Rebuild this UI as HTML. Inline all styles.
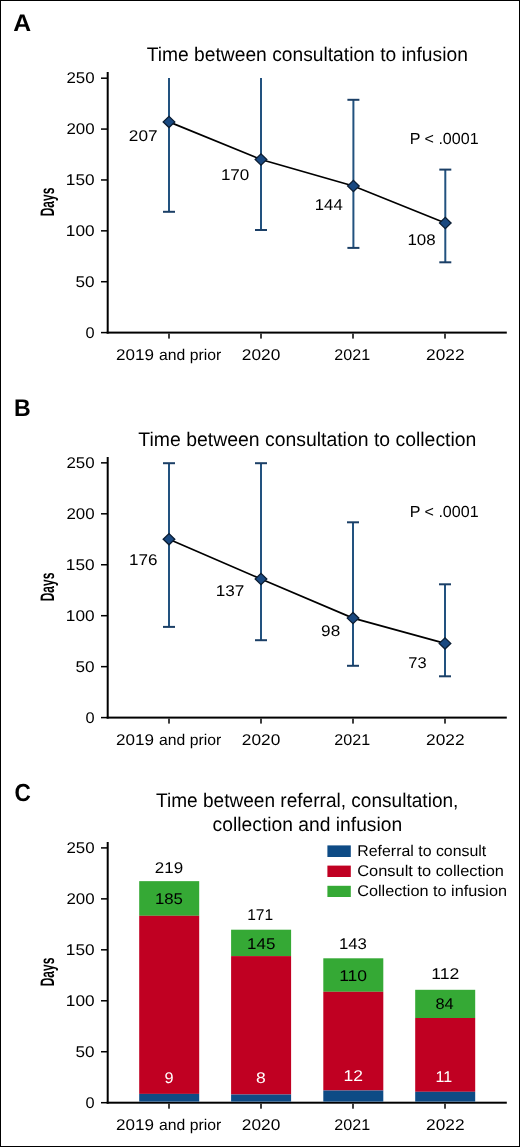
<!DOCTYPE html>
<html><head><meta charset="utf-8"><style>
html,body{margin:0;padding:0;background:#fff;}
svg{display:block;font-family:"Liberation Sans", sans-serif;text-rendering:geometricPrecision;will-change:transform;}
</style></head><body>
<svg width="520" height="1147" viewBox="0 0 520 1147">
<rect width="520" height="1147" fill="#fff"/>
<rect x="0.5" y="0.5" width="519" height="1146" fill="none" stroke="#000" stroke-width="1"/>
<rect x="106.7" y="72" width="2" height="261.60" fill="#000"/>
<rect x="106.7" y="331.60" width="400.1" height="2" fill="#000"/>
<rect x="101" y="331.85" width="6" height="1.5" fill="#000"/>
<rect x="101" y="280.97" width="6" height="1.5" fill="#000"/>
<rect x="101" y="230.09" width="6" height="1.5" fill="#000"/>
<rect x="101" y="179.21" width="6" height="1.5" fill="#000"/>
<rect x="101" y="128.33" width="6" height="1.5" fill="#000"/>
<rect x="101" y="77.45" width="6" height="1.5" fill="#000"/>
<rect x="168.25" y="333.60" width="1.5" height="5" fill="#000"/>
<rect x="260.25" y="333.60" width="1.5" height="5" fill="#000"/>
<rect x="352.25" y="333.60" width="1.5" height="5" fill="#000"/>
<rect x="444.25" y="333.60" width="1.5" height="5" fill="#000"/>
<rect x="106.7" y="457" width="2" height="261.60" fill="#000"/>
<rect x="106.7" y="716.60" width="400.1" height="2" fill="#000"/>
<rect x="101" y="716.85" width="6" height="1.5" fill="#000"/>
<rect x="101" y="665.90" width="6" height="1.5" fill="#000"/>
<rect x="101" y="614.95" width="6" height="1.5" fill="#000"/>
<rect x="101" y="564.00" width="6" height="1.5" fill="#000"/>
<rect x="101" y="513.05" width="6" height="1.5" fill="#000"/>
<rect x="101" y="462.10" width="6" height="1.5" fill="#000"/>
<rect x="168.25" y="718.60" width="1.5" height="5" fill="#000"/>
<rect x="260.25" y="718.60" width="1.5" height="5" fill="#000"/>
<rect x="352.25" y="718.60" width="1.5" height="5" fill="#000"/>
<rect x="444.25" y="718.60" width="1.5" height="5" fill="#000"/>
<rect x="106.7" y="842" width="2" height="261.70" fill="#000"/>
<rect x="106.7" y="1101.70" width="400.1" height="2" fill="#000"/>
<rect x="101" y="1101.95" width="6" height="1.5" fill="#000"/>
<rect x="101" y="1050.99" width="6" height="1.5" fill="#000"/>
<rect x="101" y="1000.03" width="6" height="1.5" fill="#000"/>
<rect x="101" y="949.07" width="6" height="1.5" fill="#000"/>
<rect x="101" y="898.11" width="6" height="1.5" fill="#000"/>
<rect x="101" y="847.15" width="6" height="1.5" fill="#000"/>
<rect x="168.25" y="1103.70" width="1.5" height="5" fill="#000"/>
<rect x="260.25" y="1103.70" width="1.5" height="5" fill="#000"/>
<rect x="352.25" y="1103.70" width="1.5" height="5" fill="#000"/>
<rect x="444.25" y="1103.70" width="1.5" height="5" fill="#000"/>
<line x1="169.0" y1="78.0" x2="169.0" y2="211.8" stroke="#22527f" stroke-width="2"/><line x1="163.0" y1="211.8" x2="175.0" y2="211.8" stroke="#1b3f66" stroke-width="2"/>
<line x1="261.0" y1="78.0" x2="261.0" y2="230.0" stroke="#22527f" stroke-width="2"/><line x1="255.0" y1="230.0" x2="267.0" y2="230.0" stroke="#1b3f66" stroke-width="2"/>
<line x1="353.4" y1="99.8" x2="353.4" y2="247.9" stroke="#22527f" stroke-width="2"/><line x1="347.4" y1="99.8" x2="359.4" y2="99.8" stroke="#1b3f66" stroke-width="2"/><line x1="347.4" y1="247.9" x2="359.4" y2="247.9" stroke="#1b3f66" stroke-width="2"/>
<line x1="445.3" y1="169.6" x2="445.3" y2="262.3" stroke="#22527f" stroke-width="2"/><line x1="439.3" y1="169.6" x2="451.3" y2="169.6" stroke="#1b3f66" stroke-width="2"/><line x1="439.3" y1="262.3" x2="451.3" y2="262.3" stroke="#1b3f66" stroke-width="2"/>
<path d="M169.0,121.9 L261.0,159.5 L353.4,186.0 L445.3,223.0" fill="none" stroke="#000" stroke-width="1.7"/>
<path d="M163.2,121.9 L169.0,116.30000000000001 L174.8,121.9 L169.0,127.5 Z" fill="#1a4981" stroke="#0b1d33" stroke-width="1.3"/>
<path d="M255.2,159.5 L261.0,153.9 L266.8,159.5 L261.0,165.1 Z" fill="#1a4981" stroke="#0b1d33" stroke-width="1.3"/>
<path d="M347.59999999999997,186.0 L353.4,180.4 L359.2,186.0 L353.4,191.6 Z" fill="#1a4981" stroke="#0b1d33" stroke-width="1.3"/>
<path d="M439.5,223.0 L445.3,217.4 L451.1,223.0 L445.3,228.6 Z" fill="#1a4981" stroke="#0b1d33" stroke-width="1.3"/>
<line x1="169.0" y1="463.2" x2="169.0" y2="626.9" stroke="#22527f" stroke-width="2"/><line x1="163.0" y1="463.2" x2="175.0" y2="463.2" stroke="#1b3f66" stroke-width="2"/><line x1="163.0" y1="626.9" x2="175.0" y2="626.9" stroke="#1b3f66" stroke-width="2"/>
<line x1="261.0" y1="463.2" x2="261.0" y2="640.2" stroke="#22527f" stroke-width="2"/><line x1="255.0" y1="463.2" x2="267.0" y2="463.2" stroke="#1b3f66" stroke-width="2"/><line x1="255.0" y1="640.2" x2="267.0" y2="640.2" stroke="#1b3f66" stroke-width="2"/>
<line x1="353.0" y1="522.3" x2="353.0" y2="665.8" stroke="#22527f" stroke-width="2"/><line x1="347.0" y1="522.3" x2="359.0" y2="522.3" stroke="#1b3f66" stroke-width="2"/><line x1="347.0" y1="665.8" x2="359.0" y2="665.8" stroke="#1b3f66" stroke-width="2"/>
<line x1="445.0" y1="584.3" x2="445.0" y2="676.3" stroke="#22527f" stroke-width="2"/><line x1="439.0" y1="584.3" x2="451.0" y2="584.3" stroke="#1b3f66" stroke-width="2"/><line x1="439.0" y1="676.3" x2="451.0" y2="676.3" stroke="#1b3f66" stroke-width="2"/>
<path d="M169.0,539.2 L261.0,579.0 L353.0,618.1 L445.0,643.4" fill="none" stroke="#000" stroke-width="1.7"/>
<path d="M163.2,539.2 L169.0,533.6 L174.8,539.2 L169.0,544.8000000000001 Z" fill="#1a4981" stroke="#0b1d33" stroke-width="1.3"/>
<path d="M255.2,579.0 L261.0,573.4 L266.8,579.0 L261.0,584.6 Z" fill="#1a4981" stroke="#0b1d33" stroke-width="1.3"/>
<path d="M347.2,618.1 L353.0,612.5 L358.8,618.1 L353.0,623.7 Z" fill="#1a4981" stroke="#0b1d33" stroke-width="1.3"/>
<path d="M439.2,643.4 L445.0,637.8 L450.8,643.4 L445.0,649.0 Z" fill="#1a4981" stroke="#0b1d33" stroke-width="1.3"/>
<rect x="139.2" y="881.15" width="60" height="34.65" fill="#35a935"/>
<rect x="139.2" y="915.8" width="60" height="178.10" fill="#c00022"/>
<rect x="139.2" y="1093.9" width="60" height="7.70" fill="#0e4b85"/>
<rect x="231.1" y="929.7" width="60" height="26.40" fill="#35a935"/>
<rect x="231.1" y="956.1" width="60" height="138.40" fill="#c00022"/>
<rect x="231.1" y="1094.5" width="60" height="7.10" fill="#0e4b85"/>
<rect x="323.3" y="958.3" width="60" height="33.50" fill="#35a935"/>
<rect x="323.3" y="991.8" width="60" height="98.70" fill="#c00022"/>
<rect x="323.3" y="1090.5" width="60" height="11.10" fill="#0e4b85"/>
<rect x="415.2" y="989.8" width="60" height="28.20" fill="#35a935"/>
<rect x="415.2" y="1018.0" width="60" height="73.80" fill="#c00022"/>
<rect x="415.2" y="1091.8" width="60" height="9.80" fill="#0e4b85"/>
<rect x="327.4" y="845.4" width="23.4" height="11.6" fill="#0e4b85"/>
<rect x="327.4" y="865.6" width="23.4" height="11.4" fill="#c00022"/>
<rect x="327.4" y="885.8" width="23.4" height="11.2" fill="#35a935"/>
<text transform="translate(54.0,215.5) rotate(-90) scale(0.612,1) translate(-1.25,0)" font-size="19.5" font-weight="700" fill="#000">Days</text>
<text transform="translate(54.0,600.5) rotate(-90) scale(0.612,1) translate(-1.25,0)" font-size="19.5" font-weight="700" fill="#000">Days</text>
<text transform="translate(54.0,985.5) rotate(-90) scale(0.612,1) translate(-1.25,0)" font-size="19.5" font-weight="700" fill="#000">Days</text>
<text transform="translate(13.28,30.70) scale(1.0312,1)" font-size="24" font-weight="700" fill="#000">A</text>
<text transform="translate(14.01,415.90) scale(0.9627,1)" font-size="24" font-weight="700" fill="#000">B</text>
<text transform="translate(14.54,801.40) scale(0.9108,1)" font-size="24.8" font-weight="700" fill="#000">C</text>
<text transform="translate(146.66,61.10) scale(0.9726,1)" font-size="19.8" font-weight="400" fill="#000">Time between consultation to infusion</text>
<text transform="translate(138.36,446.00) scale(0.9812,1)" font-size="19.8" font-weight="400" fill="#000">Time between consultation to collection</text>
<text transform="translate(155.97,807.00) scale(0.9640,1)" font-size="19.8" font-weight="400" fill="#000">Time between referral, consultation,</text>
<text transform="translate(212.62,831.00) scale(0.9740,1)" font-size="19.8" font-weight="400" fill="#000">collection and infusion</text>
<text transform="translate(85.52,337.50) scale(1.0533,1)" font-size="15.5" font-weight="400" fill="#000">0</text>
<text transform="translate(75.42,286.62) scale(1.1063,1)" font-size="15.5" font-weight="400" fill="#000">50</text>
<text transform="translate(65.86,235.74) scale(1.1125,1)" font-size="15.5" font-weight="400" fill="#000">100</text>
<text transform="translate(65.86,184.86) scale(1.1125,1)" font-size="15.5" font-weight="400" fill="#000">150</text>
<text transform="translate(66.43,133.98) scale(1.0898,1)" font-size="15.5" font-weight="400" fill="#000">200</text>
<text transform="translate(66.43,83.10) scale(1.0898,1)" font-size="15.5" font-weight="400" fill="#000">250</text>
<text transform="translate(85.52,722.50) scale(1.0533,1)" font-size="15.5" font-weight="400" fill="#000">0</text>
<text transform="translate(75.42,671.55) scale(1.1063,1)" font-size="15.5" font-weight="400" fill="#000">50</text>
<text transform="translate(65.86,620.60) scale(1.1125,1)" font-size="15.5" font-weight="400" fill="#000">100</text>
<text transform="translate(65.86,569.65) scale(1.1125,1)" font-size="15.5" font-weight="400" fill="#000">150</text>
<text transform="translate(66.43,518.70) scale(1.0898,1)" font-size="15.5" font-weight="400" fill="#000">200</text>
<text transform="translate(66.43,467.75) scale(1.0898,1)" font-size="15.5" font-weight="400" fill="#000">250</text>
<text transform="translate(85.52,1107.60) scale(1.0533,1)" font-size="15.5" font-weight="400" fill="#000">0</text>
<text transform="translate(75.42,1056.64) scale(1.1063,1)" font-size="15.5" font-weight="400" fill="#000">50</text>
<text transform="translate(65.86,1005.68) scale(1.1125,1)" font-size="15.5" font-weight="400" fill="#000">100</text>
<text transform="translate(65.86,954.72) scale(1.1125,1)" font-size="15.5" font-weight="400" fill="#000">150</text>
<text transform="translate(66.43,903.76) scale(1.0898,1)" font-size="15.5" font-weight="400" fill="#000">200</text>
<text transform="translate(66.43,852.80) scale(1.0898,1)" font-size="15.5" font-weight="400" fill="#000">250</text>
<text transform="translate(116.12,359.70) scale(1.1000,1)" font-size="15.5" font-weight="400" fill="#000">2019</text>
<text transform="translate(159.09,359.70) scale(1.0158,1)" font-size="15.5" font-weight="400" fill="#000">and prior</text>
<text transform="translate(241.81,360.00) scale(1.1158,1)" font-size="15.5" font-weight="400" fill="#000">2020</text>
<text transform="translate(334.27,360.00) scale(1.0394,1)" font-size="15.5" font-weight="400" fill="#000">2021</text>
<text transform="translate(426.11,360.00) scale(1.1152,1)" font-size="15.5" font-weight="400" fill="#000">2022</text>
<text transform="translate(116.12,744.90) scale(1.1000,1)" font-size="15.5" font-weight="400" fill="#000">2019</text>
<text transform="translate(159.09,744.90) scale(1.0158,1)" font-size="15.5" font-weight="400" fill="#000">and prior</text>
<text transform="translate(241.81,745.20) scale(1.1158,1)" font-size="15.5" font-weight="400" fill="#000">2020</text>
<text transform="translate(334.27,745.20) scale(1.0394,1)" font-size="15.5" font-weight="400" fill="#000">2021</text>
<text transform="translate(426.11,745.20) scale(1.1152,1)" font-size="15.5" font-weight="400" fill="#000">2022</text>
<text transform="translate(116.12,1130.10) scale(1.1000,1)" font-size="15.5" font-weight="400" fill="#000">2019</text>
<text transform="translate(159.09,1130.10) scale(1.0158,1)" font-size="15.5" font-weight="400" fill="#000">and prior</text>
<text transform="translate(241.81,1130.40) scale(1.1158,1)" font-size="15.5" font-weight="400" fill="#000">2020</text>
<text transform="translate(334.27,1130.40) scale(1.0394,1)" font-size="15.5" font-weight="400" fill="#000">2021</text>
<text transform="translate(426.11,1130.40) scale(1.1152,1)" font-size="15.5" font-weight="400" fill="#000">2022</text>
<text transform="translate(128.82,141.40) scale(1.1093,1)" font-size="15.5" font-weight="400" fill="#000">207</text>
<text transform="translate(220.88,179.80) scale(1.1000,1)" font-size="15.5" font-weight="400" fill="#000">170</text>
<text transform="translate(314.80,210.00) scale(1.0804,1)" font-size="15.5" font-weight="400" fill="#000">144</text>
<text transform="translate(407.39,244.80) scale(1.0917,1)" font-size="15.5" font-weight="400" fill="#000">108</text>
<text transform="translate(409.70,143.60) scale(1.0030,1)" font-size="16" font-weight="400" fill="#000">P &lt; .0001</text>
<text transform="translate(128.97,564.80) scale(1.1000,1)" font-size="15.5" font-weight="400" fill="#000">176</text>
<text transform="translate(215.77,595.80) scale(1.1074,1)" font-size="15.5" font-weight="400" fill="#000">137</text>
<text transform="translate(321.12,636.10) scale(1.1048,1)" font-size="15.5" font-weight="400" fill="#000">98</text>
<text transform="translate(408.25,667.90) scale(1.0603,1)" font-size="15.5" font-weight="400" fill="#000">73</text>
<text transform="translate(409.70,516.50) scale(1.0030,1)" font-size="16" font-weight="400" fill="#000">P &lt; .0001</text>
<text transform="translate(154.83,872.60) scale(1.0939,1)" font-size="15.5" font-weight="400" fill="#000">219</text>
<text transform="translate(154.90,903.60) scale(1.0833,1)" font-size="15.5" font-weight="400" fill="#000">185</text>
<text transform="translate(247.19,919.70) scale(1.0063,1)" font-size="15.5" font-weight="400" fill="#000">171</text>
<text transform="translate(247.08,948.50) scale(1.0958,1)" font-size="15.5" font-weight="400" fill="#000">145</text>
<text transform="translate(338.90,948.80) scale(1.0833,1)" font-size="15.5" font-weight="400" fill="#000">143</text>
<text transform="translate(339.14,981.10) scale(1.1297,1)" font-size="15.5" font-weight="400" fill="#000">110</text>
<text transform="translate(431.13,978.80) scale(1.1385,1)" font-size="15.5" font-weight="400" fill="#000">112</text>
<text transform="translate(435.46,1008.50) scale(1.0562,1)" font-size="15.5" font-weight="400" fill="#000">84</text>
<text transform="translate(164.46,1082.90) scale(1.0483,1)" font-size="15.5" font-weight="400" fill="#fff">9</text>
<text transform="translate(255.90,1083.30) scale(1.1310,1)" font-size="15.5" font-weight="400" fill="#fff">8</text>
<text transform="translate(343.44,1080.60) scale(1.1279,1)" font-size="15.5" font-weight="400" fill="#fff">12</text>
<text transform="translate(435.46,1081.70) scale(1.0357,1)" font-size="15.5" font-weight="400" fill="#fff">11</text>
<text transform="translate(357.27,856.00) scale(1.0257,1)" font-size="15.5" font-weight="400" fill="#000">Referral to consult</text>
<text transform="translate(357.26,876.20) scale(1.0577,1)" font-size="15.5" font-weight="400" fill="#000">Consult to collection</text>
<text transform="translate(357.27,896.30) scale(1.0464,1)" font-size="15.5" font-weight="400" fill="#000">Collection to infusion</text>
</svg>
</body></html>
